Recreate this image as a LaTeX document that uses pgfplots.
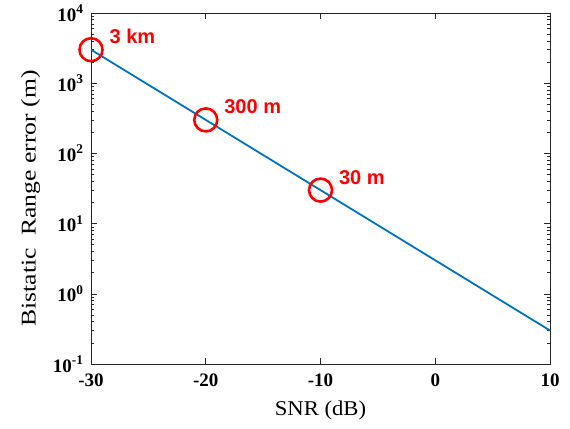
\documentclass[border=0pt]{standalone}
\usepackage{fontspec}
\setmainfont{Liberation Serif}
\newfontfamily\annfont{Liberation Sans}
\usepackage{pgfplots}
\pgfplotsset{compat=1.18}
\definecolor{mblue}{RGB}{0,114,189}
\definecolor{axgray}{RGB}{38,38,38}
\begin{document}
\begin{tikzpicture}
\useasboundingbox (-91bp,-65bp) rectangle (479bp,364bp);
\begin{axis}[
    at={(0,0)}, anchor=south west,
    scale only axis,
    width=459bp, height=351bp,
    ymode=log,
    xmin=-30, xmax=10,
    ymin=0.1, ymax=10000,
    xtick={-30,-20,-10,0,10},
    xticklabels={\textbf{-30},\textbf{-20},\textbf{-10},\textbf{0},\textbf{10}},
    ytick={0.1,1,10,100,1000,10000},
    yticklabels={\textbf{10}\textsuperscript{\textbf{-1}},\textbf{10}\textsuperscript{\textbf{0}},\textbf{10}\textsuperscript{\textbf{1}},\textbf{10}\textsuperscript{\textbf{2}},\textbf{10}\textsuperscript{\textbf{3}},\textbf{10}\textsuperscript{\textbf{4}}},
    tick label style={font=\fontsize{19bp}{21bp}\selectfont},
    xticklabel style={yshift=-6bp},
    yticklabel style={xshift=-4bp},
    label style={font=\fontsize{21bp}{23bp}\selectfont},
    xlabel={\scalebox{1.08}[1]{SNR (dB)}},
    ylabel={\scalebox{1.22}[1]{Bistatic~~Range error (m)}},
    xlabel style={yshift=-8bp},
    ylabel style={yshift=6bp, xshift=-10bp},
    axis line style={axgray, line width=0.8pt},
    tick style={axgray, line width=0.6pt},
    major tick length=6bp,
    minor tick length=3bp,
    tick align=inside,
    clip=false,
]
\addplot[mblue, line width=1.8pt] coordinates {
    (-30,3000) (10,0.3)
};
\addplot[only marks, mark=o, mark size=11.5bp, red, mark options={line width=2.6pt},
    nodes near coords, point meta=explicit symbolic,
    every node near coord/.append style={anchor=base west, xshift=14bp, yshift=6bp,
        text=red, font=\annfont\bfseries\fontsize{20bp}{22bp}\selectfont}]
    table[meta=lab] {
x y lab
-30 3000 {3 km}
-20 300 {300 m}
-10 30 {30 m}
};
\end{axis}
\end{tikzpicture}
\end{document}
